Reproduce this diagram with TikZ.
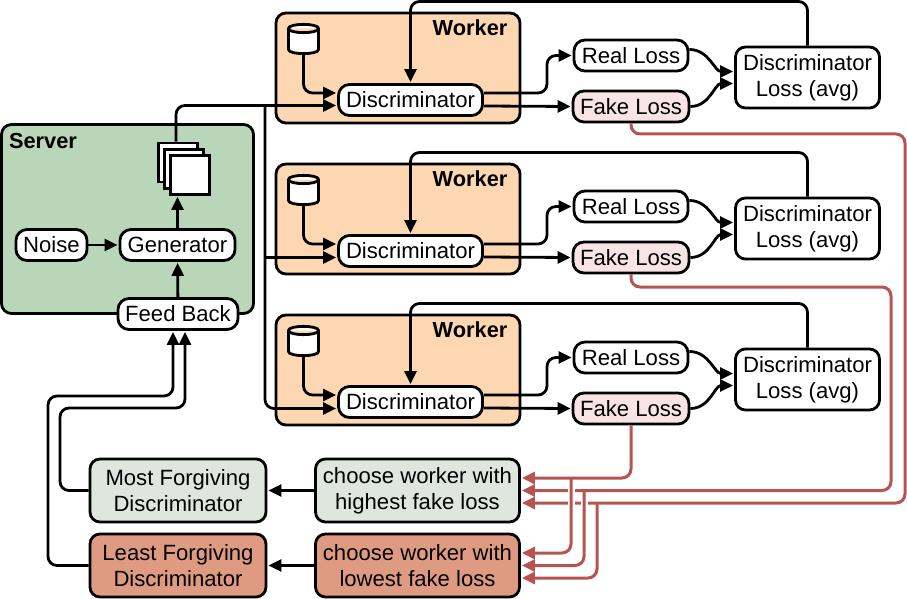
\documentclass[tikz,border=0pt]{standalone}
\usepackage{fontspec}
\setmainfont{Liberation Sans}
\usetikzlibrary{arrows.meta}
\definecolor{servergreen}{HTML}{BAD6B8}
\definecolor{workerorange}{HTML}{FDD7B1}
\definecolor{mostgrey}{HTML}{DEE6DE}
\definecolor{leastred}{HTML}{DF9B82}
\definecolor{fakepink}{HTML}{F8E4E4}
\definecolor{lossred}{HTML}{B85450}
\tikzset{
  pill/.style={draw,fill=white,rounded corners=11pt,minimum height=31pt,inner sep=0pt},
  panel/.style={draw,rounded corners=10pt,inner sep=0pt},
  title/.style={font=\fontsize{21.8}{26}\selectfont\bfseries,inner sep=0pt},
  page/.style={draw,fill=white,minimum size=39pt,inner sep=0pt},
  store/.pic={
    \draw[fill=white] (-15,-10.5) .. controls (-15,-16) and (15,-16) .. (15,-10.5) -- (15,10.5)
      .. controls (15,16) and (-15,16) .. (-15,10.5) -- cycle
      (-15,-10.5) .. controls (-15,-5) and (15,-5) .. (15,-10.5);
    \coordinate (-bottom) at (0,14);
  },
  flow/.style={-{Triangle[length=13pt,width=12pt]},shorten >=1pt,rounded corners=9pt},
  lossflow/.style={flow,draw=lossred,line width=3pt},
  gap/.style={draw=white,line width=7pt},
}
\begin{document}
\begin{tikzpicture}[x=1pt,y=-1pt,line width=2.8pt,font=\fontsize{22.1}{26}\selectfont]
\useasboundingbox (0,0) rectangle (907,599);
% server
  \node[panel,fill=servergreen,minimum width=252pt,minimum height=189pt] (server) at (127.5,219) {};
  \node[title] (servertitle) at (43,141) {Server};
  \node[pill,minimum width=71pt] (noise) at (51.5,245) {Noise};
  \node[pill,minimum width=115pt] (gen) at (177.5,245) {Generator};
  \node[pill,minimum width=120pt] (fb) at (178,314) {Feed Back};
  \node[page] (p1) at (178,162.5) {};
  \node[page] (p2) at (184,169) {};
  \node[page] (p3) at (190,175) {};
% worker 1
  \node[panel,fill=workerorange,minimum width=244pt,minimum height=110pt] (w1) at (398,68) {};
  \node[title] (w1title) at (470,28) {Worker};
  \pic (c1) at (303.5,39) {store};
  \node[pill,minimum width=144pt] (d1) at (410.5,100) {Discriminator};
  \node[pill,minimum width=114pt] (r1) at (631,55.5) {Real Loss};
  \node[pill,fill=fakepink,minimum width=116pt] (f1) at (631,106.5) {Fake Loss};
  \node[panel,fill=white,align=center,minimum width=144pt,minimum height=61pt] (l1) at (807.5,77.5) {Discriminator\\Loss (avg)};
% worker 2
  \node[panel,fill=workerorange,minimum width=244pt,minimum height=110pt] (w2) at (398,219) {};
  \node[title] (w2title) at (470,179) {Worker};
  \pic (c2) at (303.5,190) {store};
  \node[pill,minimum width=144pt] (d2) at (410.5,251) {Discriminator};
  \node[pill,minimum width=114pt] (r2) at (631,206.5) {Real Loss};
  \node[pill,fill=fakepink,minimum width=116pt] (f2) at (631,257.5) {Fake Loss};
  \node[panel,fill=white,align=center,minimum width=144pt,minimum height=61pt] (l2) at (807.5,228.5) {Discriminator\\Loss (avg)};
% worker 3
  \node[panel,fill=workerorange,minimum width=244pt,minimum height=110pt] (w3) at (398,370) {};
  \node[title] (w3title) at (470,330) {Worker};
  \pic (c3) at (303.5,341) {store};
  \node[pill,minimum width=144pt] (d3) at (410.5,402) {Discriminator};
  \node[pill,minimum width=114pt] (r3) at (631,357.5) {Real Loss};
  \node[pill,fill=fakepink,minimum width=116pt] (f3) at (631,408.5) {Fake Loss};
  \node[panel,fill=white,align=center,minimum width=144pt,minimum height=61pt] (l3) at (807.5,379.5) {Discriminator\\Loss (avg)};
% selection
  \node[panel,fill=mostgrey,align=center,minimum width=204pt,minimum height=63pt] (high) at (417.5,490.5) {choose worker with\\highest fake loss};
  \node[panel,fill=leastred,align=center,minimum width=204pt,minimum height=63pt] (low) at (417.5,565.5) {choose worker with\\lowest fake loss};
  \node[panel,fill=mostgrey,align=center,minimum width=176pt,minimum height=63pt] (most) at (178,490.5) {Most Forgiving\\Discriminator};
  \node[panel,fill=leastred,align=center,minimum width=176pt,minimum height=63pt] (least) at (178,565.5) {Least Forgiving\\Discriminator};
% server arrows
  \draw[flow] (noise) -- (gen);
  \draw[flow] (gen) -- (gen.north |- p3.south);
  \draw[flow] (fb) -- (gen);
  \coordinate (bus) at (265,105.5);
  \draw[flow] ([xshift=-2pt]p1.north) |- ([yshift=-5.5pt]d1.west);
  \draw[flow] (bus) |- ([yshift=-6.5pt]d3.west);
  \draw[flow] (bus |- d2.west) ++(0,6.5) -- ([yshift=-6.5pt]d2.west);
% worker 1 arrows
  \draw[flow] (c1-bottom) |- ([yshift=7pt]d1.west);
  \draw[flow] ([yshift=7pt]d1.east) -- (547,93) -- (547,55.5) -- (r1.west);
  \draw[flow] ([yshift=-6pt]d1.east) -- (f1.west);
  \draw[flow] ([yshift=6pt]r1.east) to[out=0,in=180] ([yshift=6pt]l1.west);
  \draw[flow] (f1.east) to[out=0,in=180] ([yshift=-6pt]l1.west);
  \draw[flow] (l1.north) |- (600,1.5) -| (d1.north);
% worker 2 arrows
  \draw[flow] (c2-bottom) |- ([yshift=7pt]d2.west);
  \draw[flow] ([yshift=7pt]d2.east) -- (547,244) -- (547,206.5) -- (r2.west);
  \draw[flow] ([yshift=-6pt]d2.east) -- (f2.west);
  \draw[flow] ([yshift=6pt]r2.east) to[out=0,in=180] ([yshift=6pt]l2.west);
  \draw[flow] (f2.east) to[out=0,in=180] ([yshift=-6pt]l2.west);
  \draw[flow] (l2.north) |- (600,152.5) -| (d2.north);
% worker 3 arrows
  \draw[flow] (c3-bottom) |- ([yshift=7pt]d3.west);
  \draw[flow] ([yshift=7pt]d3.east) -- (547,395) -- (547,357.5) -- (r3.west);
  \draw[flow] ([yshift=-6pt]d3.east) -- (f3.west);
  \draw[flow] ([yshift=6pt]r3.east) to[out=0,in=180] ([yshift=6pt]l3.west);
  \draw[flow] (f3.east) to[out=0,in=180] ([yshift=-6pt]l3.west);
  \draw[flow] (l3.north) |- (600,303.5) -| (d3.north);
% red fake loss lines
  \coordinate (right1) at (905,134);
  \coordinate (right2) at (891,287);
  \draw[lossflow] (f1.south) |- (right1) |- ([yshift=-12.5pt]high.east);
  \draw[lossflow] (f2.south) |- (right2) |- (high.east);
  \draw[lossflow] (f3.south) |- ([yshift=12.5pt]high.east);
  \coordinate (b1) at (571,478);
  \coordinate (b2) at (584,490.5);
  \coordinate (b3) at (597,503);
  \draw[gap] (571,484) -- (571,508);
  \draw[gap] (584,496) -- (584,508);
  \draw[lossflow] (b1) |- ([yshift=12.5pt]low.east);
  \draw[lossflow] (b2) |- (low.east);
  \draw[lossflow] (b3) |- ([yshift=-12.5pt]low.east);
% back to the server
  \draw[flow] (high) -- (most);
  \draw[flow] (low) -- (least);
  \draw[flow] (most.west) -- (60,490.5) -- (60,408) -- (185,408) -- ([xshift=7pt]fb.south);
  \draw[flow] (least.west) -- (48,565.5) -- (48,396) -- (173,396) -- ([xshift=-5pt]fb.south);
\end{tikzpicture}
\end{document}
